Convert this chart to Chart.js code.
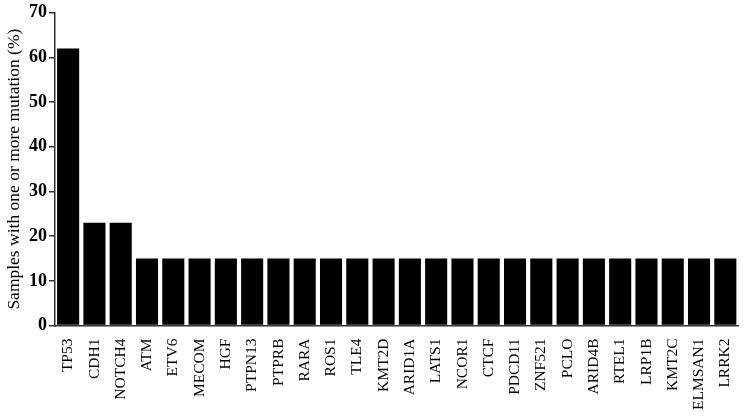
<!DOCTYPE html>
<html>
<head>
<meta charset="utf-8">
<script src="https://cdn.jsdelivr.net/npm/chart.js@4/dist/chart.umd.min.js"></script>
<style>
  html, body { margin: 0; padding: 0; background: #fff; }
  #wrap { width: 749px; height: 416px; }
</style>
</head>
<body>
<div id="wrap"><canvas id="chart" width="749" height="416"></canvas></div>
<script>
// genes along the x axis
var genes = ["TP53", "CDH1", "NOTCH4", "ATM", "ETV6", "MECOM", "HGF", "PTPN13", "PTPRB",
    "RARA", "ROS1", "TLE4", "KMT2D", "ARID1A", "LATS1", "NCOR1", "CTCF", "PDCD11",
    "ZNF521", "PCLO", "ARID4B", "RTEL1", "LRP1B", "KMT2C", "ELMSAN1", "LRRK2"];

// percent of samples with one or more mutation
var mutationPct = [62, 23, 23, 15, 15, 15, 15, 15, 15, 15, 15, 15, 15, 15, 15, 15,
    15, 15, 15, 15, 15, 15, 15, 15, 15, 15];

var yTicks = [0, 10, 20, 30, 40, 50, 60, 70];

var serif = "'Liberation Serif', 'Times New Roman', serif";

var ctx = document.getElementById("chart");
new Chart(ctx, {
    type: "bar",
    data: {
        labels: genes,
        datasets: [{
            data: mutationPct,
            backgroundColor: "#000",
            borderWidth: 0,
            categoryPercentage: 1.0,
            barPercentage: 0.84
        }]
    },
    options: {
        responsive: false,
        animation: false,
        layout: { padding: { top: 5, right: 4, left: 4, bottom: 1 } },
        plugins: {
            legend: { display: false },
            tooltip: { enabled: false }
        },
        scales: {
            x: {
                grid: { display: false },
                border: { display: true, color: "#333", width: 1.5 },
                ticks: {
                    color: "#000",
                    minRotation: 90,
                    maxRotation: 90,
                    autoSkip: false,
                    padding: 5,
                    font: { family: serif, size: 15.5 }
                }
            },
            y: {
                min: 0,
                max: 70,
                afterBuildTicks: function(axis) {
                    axis.ticks = yTicks.map(function(v) { return { value: v }; });
                },
                grid: {
                    drawOnChartArea: false,
                    drawTicks: true,
                    tickLength: 6,
                    color: "#333",
                    lineWidth: 1.5
                },
                border: { display: true, color: "#333", width: 1.5 },
                ticks: {
                    color: "#000",
                    padding: 2,
                    font: { family: serif, size: 18, weight: "bold" }
                },
                title: {
                    display: true,
                    text: "Samples with one or more mutation (%)",
                    color: "#000",
                    padding: { top: 0, bottom: 2 },
                    font: { family: serif, size: 17.5 }
                }
            }
        }
    }
});
</script>
</body>
</html>
